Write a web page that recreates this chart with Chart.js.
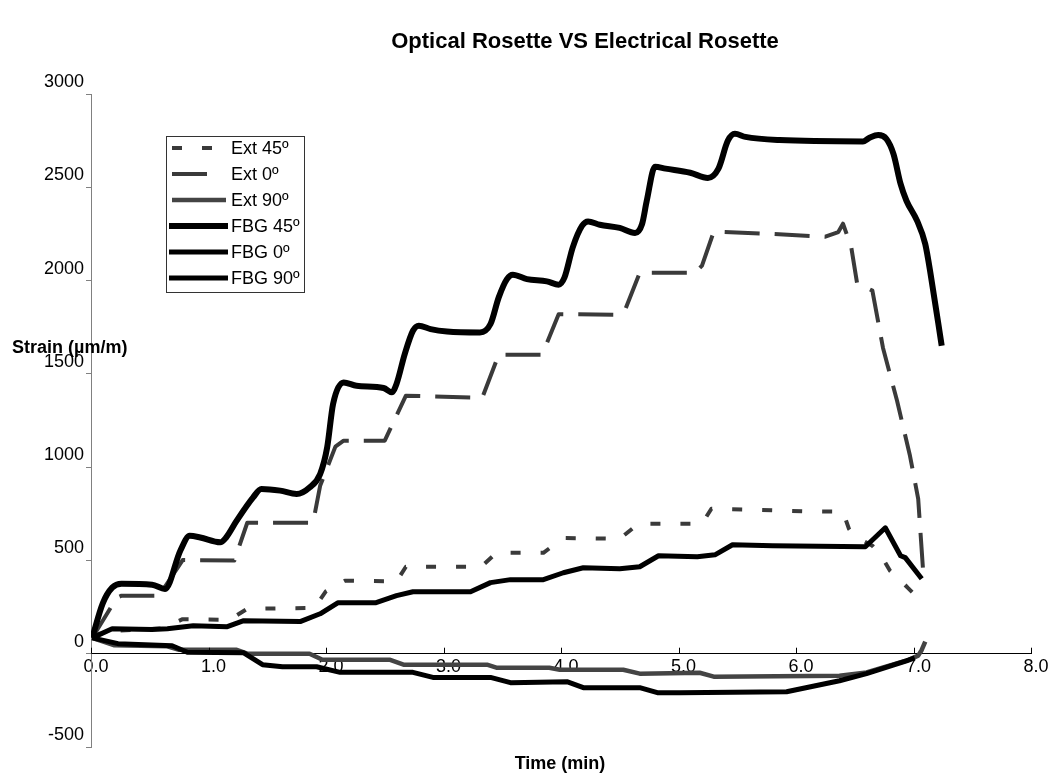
<!DOCTYPE html>
<html>
<head>
<meta charset="utf-8">
<title>Optical Rosette VS Electrical Rosette</title>
<script src="https://cdn.jsdelivr.net/npm/chart.js@4.4.1/dist/chart.umd.min.js"></script>
<style>
    html, body { margin: 0; padding: 0; background: #fff; }
    #wrap { width: 1052px; height: 774px; position: relative; }
</style>
</head>
<body>
<div id="wrap"><canvas id="chartRosette"></canvas></div>
<script>
// values: time in min, strain in µm/m
const ext45Time   = [0.01, 0.12, 0.6, 0.78, 1.18, 1.33, 1.9, 2.0, 2.16, 2.6, 2.68, 3.32, 3.45, 3.85, 4.02, 4.5, 4.66, 5.2, 5.28, 5.6, 6.1, 6.4, 6.45, 6.5, 6.65, 6.72, 6.8, 6.88, 6.95, 7.03];
const ext45Strain = [85, 120, 135, 185, 182, 241, 245, 335, 391, 388, 466, 466, 541, 541, 620, 616, 697, 697, 777, 772, 763, 761, 670, 628, 579, 530, 445, 400, 354, 305];

const ext0Time   = [0.01, 0.22, 0.26, 0.58, 0.78, 1.22, 1.33, 1.89, 1.95, 2.08, 2.15, 2.5, 2.68, 3.33, 3.47, 3.84, 3.98, 4.48, 4.55, 4.67, 5.14, 5.2, 5.3, 5.8, 6.25, 6.36, 6.4, 6.47, 6.52, 6.65, 6.74, 6.86, 6.97, 7.04, 7.08];
const ext0Strain = [85, 300, 311, 311, 502, 499, 702, 702, 900, 1110, 1142, 1142, 1383, 1372, 1603, 1603, 1820, 1817, 1850, 2042, 2042, 2080, 2262, 2250, 2235, 2260, 2305, 2180, 1985, 1946, 1640, 1356, 1061, 830, 460];

const ext90Time   = [0.01, 0.2, 0.65, 0.75, 1.24, 1.33, 1.86, 1.97, 2.54, 2.66, 3.37, 3.45, 3.9, 3.99, 4.53, 4.67, 5.18, 5.3, 6.37, 6.6, 6.95, 7.04, 7.07, 7.1];
const ext90Strain = [85, 45, 40, 21, 21, 0, 0, -32, -32, -59, -59, -75, -75, -86, -86, -107, -102, -123, -118, -100, -35, -10, 20, 65];

const fbg45Time   = [0.01, 0.1, 0.18, 0.26, 0.52, 0.63, 0.76, 0.84, 0.93, 1.1, 1.15, 1.24, 1.38, 1.45, 1.61, 1.75, 1.86, 1.95, 2.01, 2.06, 2.15, 2.26, 2.49, 2.56, 2.6, 2.67, 2.74, 2.79, 2.89, 3.03, 3.31, 3.4, 3.47, 3.54, 3.59, 3.71, 3.88, 3.98, 4.03, 4.1, 4.18, 4.23, 4.33, 4.5, 4.63, 4.69, 4.73, 4.8, 4.89, 5.1, 5.25, 5.34, 5.42, 5.48, 5.57, 5.86, 6.57, 6.63, 6.7, 6.77, 6.83, 6.89, 6.94, 7.03, 7.1, 7.15, 7.24];
const fbg45Strain = [85, 270, 354, 375, 370, 347, 552, 632, 623, 597, 623, 713, 838, 883, 874, 856, 891, 963, 1106, 1338, 1454, 1436, 1424, 1401, 1446, 1606, 1731, 1758, 1740, 1727, 1722, 1767, 1910, 2008, 2031, 2008, 1996, 1978, 2017, 2178, 2294, 2317, 2299, 2282, 2255, 2303, 2428, 2610, 2600, 2578, 2550, 2600, 2750, 2787, 2770, 2753, 2746, 2767, 2780, 2759, 2678, 2518, 2428, 2321, 2196, 2017, 1651];

const fbg0Time   = [0.01, 0.18, 0.52, 0.65, 0.87, 1.16, 1.3, 1.78, 1.95, 2.1, 2.42, 2.6, 2.74, 3.23, 3.4, 3.57, 3.85, 4.02, 4.19, 4.5, 4.67, 4.83, 5.16, 5.31, 5.46, 5.8, 6.59, 6.76, 6.89, 6.93, 7.07];
const fbg0Strain = [85, 134, 130, 134, 150, 145, 177, 172, 214, 273, 273, 311, 332, 332, 381, 397, 397, 434, 461, 456, 466, 525, 520, 530, 584, 579, 573, 675, 525, 515, 402];

const fbg90Time   = [0.01, 0.23, 0.69, 0.82, 1.3, 1.46, 1.63, 1.92, 2.12, 2.74, 2.91, 3.4, 3.57, 4.05, 4.19, 4.67, 4.82, 5.01, 5.92, 6.37, 6.6, 6.94, 7.01];
const fbg90Strain = [85, 54, 43, 8, 5, -59, -70, -70, -100, -100, -127, -127, -155, -150, -182, -182, -209, -209, -204, -145, -107, -38, -22];

const seriesNames = ['Ext 45º', 'Ext 0º', 'Ext 90º', 'FBG 45º', 'FBG 0º', 'FBG 90º'];
const strainMin = -500, strainMax = 3000, strainStep = 500;
const timeMin = 0, timeMax = 8, timeStep = 1;

const FONT = '"Liberation Sans", Arial, Helvetica, sans-serif';

function pts(t, v) {
    return t.map((x, i) => ({ x: x, y: v[i] }));
}

// titles, legend box and the upward x tick marks
const decorations = {
    id: 'decorations',
    afterDraw(chart) {
        const ctx = chart.ctx;
        const xs = chart.scales.x;
        const y0 = chart.scales.y.getPixelForValue(0);
        ctx.save();

        ctx.strokeStyle = '#000';
        ctx.lineWidth = 1;
        xs.ticks.forEach(t => {
            const px = Math.round(xs.getPixelForValue(t.value)) + 0.5;
            ctx.beginPath();
            ctx.moveTo(px, y0);
            ctx.lineTo(px, y0 - 6);
            ctx.stroke();
        });

        ctx.fillStyle = '#000';
        ctx.textBaseline = 'middle';
        ctx.textAlign = 'center';
        ctx.font = 'bold 22px ' + FONT;
        ctx.fillText('Optical Rosette VS Electrical Rosette', 585, 42);
        ctx.font = 'bold 18px ' + FONT;
        ctx.fillText('Time (min)', 560, 764);
        ctx.textAlign = 'left';
        ctx.fillText('Strain (µm/m)', 12, 348);

        // legend
        ctx.fillStyle = '#fff';
        ctx.fillRect(166, 136, 138, 156);
        ctx.strokeStyle = '#333';
        ctx.lineWidth = 1;
        ctx.strokeRect(166.5, 136.5, 138, 156);
        const sample = [[172, 213], [172, 208], [172, 226], [169, 228], [169, 228], [169, 228]];
        ctx.font = '18px ' + FONT;
        chart.data.datasets.forEach((ds, i) => {
            const yy = 148 + i * 26;
            ctx.beginPath();
            ctx.setLineDash(ds.borderDash || []);
            ctx.lineDashOffset = 0;
            ctx.strokeStyle = ds.borderColor;
            ctx.lineWidth = ds.borderWidth;
            ctx.lineCap = 'butt';
            ctx.moveTo(sample[i][0], yy);
            ctx.lineTo(sample[i][1], yy);
            ctx.stroke();
            ctx.setLineDash([]);
            ctx.fillStyle = '#000';
            ctx.fillText(ds.label, 231, yy + 1);
        });
        ctx.restore();
    }
};

const ctxRos = document.getElementById('chartRosette').getContext('2d');
new Chart(ctxRos, {
    type: 'line',
    data: {
        datasets: [{
            label: seriesNames[0],
            data: pts(ext45Time, ext45Strain),
            borderColor: '#3a3a3a',
            borderWidth: 4,
            borderDash: [10, 20],
            order: 1
        }, {
            label: seriesNames[1],
            data: pts(ext0Time, ext0Strain),
            borderColor: '#3a3a3a',
            borderWidth: 4,
            borderDash: [35, 15],
            order: 1
        }, {
            label: seriesNames[2],
            data: pts(ext90Time, ext90Strain),
            borderColor: '#444',
            borderWidth: 4.5,
            order: 1
        }, {
            label: seriesNames[3],
            data: pts(fbg45Time, fbg45Strain),
            borderColor: '#000',
            borderWidth: 6,
            cubicInterpolationMode: 'monotone',
            order: 0
        }, {
            label: seriesNames[4],
            data: pts(fbg0Time, fbg0Strain),
            borderColor: '#000',
            borderWidth: 5,
            order: 0
        }, {
            label: seriesNames[5],
            data: pts(fbg90Time, fbg90Strain),
            borderColor: '#000',
            borderWidth: 5,
            order: 0
        }]
    },
    options: {
        responsive: true,
        maintainAspectRatio: false,
        animation: false,
        layout: { padding: { left: 0, top: 94, right: 21, bottom: 27 } },
        elements: {
            point: { radius: 0 },
            line: { tension: 0, borderCapStyle: 'butt', borderJoinStyle: 'round' }
        },
        scales: {
            x: {
                type: 'linear',
                position: { y: 0 },
                min: timeMin,
                max: timeMax,
                afterFit: s => { s.height = 0; },
                border: { color: '#000', width: 1 },
                grid: { drawOnChartArea: false, drawTicks: false },
                ticks: {
                    stepSize: timeStep,
                    autoSkip: false,
                    maxRotation: 0,
                    labelOffset: 5,
                    padding: 3,
                    color: '#000',
                    font: { family: FONT, size: 18 },
                    callback: v => v.toFixed(1)
                }
            },
            y: {
                min: strainMin,
                max: strainMax,
                afterFit: s => { s.width = 91; },
                border: { color: '#808080', width: 1 },
                grid: { drawOnChartArea: false, tickLength: 5, color: '#808080' },
                ticks: {
                    stepSize: strainStep,
                    labelOffset: -12,
                    padding: 2,
                    color: '#000',
                    font: { family: FONT, size: 18 },
                    callback: v => String(v)
                }
            }
        },
        plugins: {
            legend: { display: false },
            tooltip: { enabled: false }
        }
    },
    plugins: [decorations]
});
</script>
</body>
</html>
